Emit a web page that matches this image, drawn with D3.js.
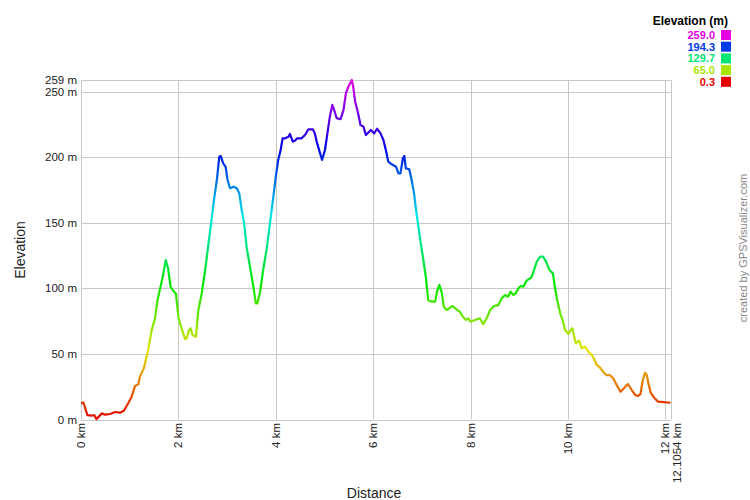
<!DOCTYPE html>
<html><head><meta charset="utf-8">
<script src="https://cdn.jsdelivr.net/npm/d3@7"></script>
<style>body{margin:0;background:#fff}svg{display:block;font-family:Arial,"Liberation Sans",sans-serif}</style>
</head><body><svg id="c" width="750" height="500"></svg>
<script>
const distances = [0,0.05,0.13,0.22,0.27,0.32,0.43,0.49,0.60,0.70,0.80,0.88,0.97,1.04,1.11,1.18,1.21,1.29,1.38,1.45,1.52,1.57,1.61,1.68,1.74,1.79,1.84,1.91,1.95,2.00,2.07,2.14,2.17,2.22,2.25,2.29,2.36,2.41,2.48,2.55,2.61,
2.68,2.73,2.79,2.84,2.87,2.92,2.97,3.01,3.06,3.13,3.20,3.25,3.30,3.35,3.40,3.47,3.54,3.59,3.62,3.68,3.74,3.81,3.88,3.95,4.00,4.05,4.10,4.14,4.19,4.26,4.29,4.35,4.39,4.44,4.53,4.60,4.67,4.76,4.80,4.84,4.91,4.95,5.01,5.06,5.11,5.16,5.20,5.25,5.33,5.39,5.44,5.49,5.56,5.59,5.63,5.69,5.74,5.80,5.85,5.92,
5.95,6.02,6.08,6.15,6.21,6.26,6.31,6.38,6.47,6.52,6.56,6.61,6.64,6.67,6.74,6.79,6.84,6.88,6.93,6.97,
7.03,7.08,7.13,7.20,7.27,7.32,7.36,7.41,7.45,7.51,7.63,7.73,7.78,7.84,7.91,7.95,8.00,8.09,8.19,8.26,8.33,8.40,8.48,8.57,8.64,8.71,8.77,8.82,8.88,8.93,8.98,9.03,9.08,9.15,9.25,9.29,9.36,9.43,9.49,9.55,9.62,9.69,9.73,9.78,9.84,9.89,9.94,10.01,
10.03,10.09,10.12,10.16,10.23,10.28,10.35,10.42,10.49,10.53,10.59,10.66,10.72,10.79,10.86,10.93,11.00,11.08,11.15,11.23,11.31,11.38,11.44,11.49,11.53,11.58,11.62,11.65,11.70,11.77,11.85,11.96,12.1054];
const elevations = [12.4,13,3.4,2.9,3.4,0.3,4.7,3.7,4.2,5.7,5.2,6.7,12.4,17.4,25.6,27,32.7,39,53,68,77,91,97.5,109,121.7,115,101,97.5,96,78,68.8,61.4,62,68.3,69.6,64.5,63.2,83.5,96.3,114,131.8,
152,167.4,182.7,200.5,201,195.4,192.8,182.7,176.4,177.6,176.4,172.5,159.8,149.7,131.8,116.6,101.3,88.6,88.6,97.5,114,129.3,149.7,170,185.2,198,205.6,214.5,214.5,215.7,217.8,212,212.7,214.5,214.5,217,221.4,221.4,218.3,212,203,198,205.6,218.3,231,240,236,229.8,229.2,236,248.8,253.9,259,253.9,242.4,233.6,224.7,223.4,217,219.6,
220.9,218.3,221.8,218.3,213.2,205.6,196.7,194.7,192.8,187.8,187.8,199.3,201,191.6,190.9,182.7,172.5,159.8,147,136,
121.7,109,91,89.9,89.9,98.8,102.6,96.3,86,83.5,86.6,83.5,82.2,78.4,75.9,77.2,74.6,75.9,77.2,72.8,77.2,83.5,86.6,87.3,92.4,95,93.7,97.5,95,96.3,100,101.8,101.3,105.9,108.5,112.7,120.4,124.2,124.2,120.4,114,111.5,101.3,91,81,75.9,68.3,65.2,
67,69.6,64.5,58.1,60.1,54.3,55.5,51.7,49.2,46.7,41.6,39.5,36.5,33.9,33.9,31.4,26.3,21.2,23.8,27.1,22.5,18.7,17.9,19.5,28.8,35.7,33.9,27.6,20.4,16.6,13.6,13.3,12.8];
const yTicks = [0,50,100,150,200,250,259];
const xTicks = [0,2,4,6,8,10,12,12.1054];
const xTickLabels = ["0 km","2 km","4 km","6 km","8 km","10 km","12 km","12.1054 km"];
const legendValues = ["259.0","194.3","129.7","65.0","0.3"];
const legendNums = [259.0,194.3,129.7,65.0,0.3];

const svg = d3.select("#c");
const x = d3.scaleLinear().domain([0,12.1054]).range([81,670.5]);
const y = d3.scaleLinear().domain([0,259]).range([419.5,80]);
const eMin = 0.3, eMax = 259.0;
const col = e => d3.hsl(300*(e-eMin)/(eMax-eMin), 1, 0.45).formatHex();

// gridlines
const g = svg.append("g");
g.selectAll("line.h").data(yTicks).join("line")
  .attr("x1",81).attr("x2",x(12.1054)).attr("y1",d=>Math.round(y(d))+0.5).attr("y2",d=>Math.round(y(d))+0.5)
  .attr("stroke","#c8c8c8").attr("stroke-width",1);
g.selectAll("line.v").data(xTicks).join("line")
  .attr("y1",y(259)).attr("y2",y(0)).attr("x1",d=>Math.round(x(d))+0.5).attr("x2",d=>Math.round(x(d))+0.5)
  .attr("stroke","#c8c8c8").attr("stroke-width",1);

// gradient
const defs = svg.append("defs");
const grad = defs.append("linearGradient").attr("id","eg").attr("gradientUnits","userSpaceOnUse")
  .attr("x1",0).attr("x2",0).attr("y1",y(eMin)).attr("y2",y(eMax));
d3.range(0,21).forEach(i=>{
  const e = eMin + (eMax-eMin)*i/20;
  grad.append("stop").attr("offset",(i/20)).attr("stop-color",col(e));
});
const pts = distances.map((d,i)=>[d,elevations[i]]);
svg.append("path").datum(pts)
  .attr("d", d3.line().x(d=>x(d[0])).y(d=>y(d[1])))
  .attr("fill","none").attr("stroke","url(#eg)").attr("stroke-width",2.2).attr("stroke-linejoin","round");

// y tick labels
svg.selectAll("text.yt").data(yTicks).join("text")
  .attr("x",77).attr("y",d=>y(d)).attr("dy","0.35em").attr("text-anchor","end")
  .attr("font-size",11.5).attr("fill","#222").text(d=>d+" m");
// x tick labels
svg.selectAll("text.xt").data(xTicks).join("text")
  .attr("transform",(d,i)=>`translate(${x(d)+(i===xTicks.length-1?6:0)},423) rotate(-90)`)
  .attr("dy","0.35em").attr("text-anchor","end")
  .attr("font-size",11.5).attr("fill","#222").text((d,i)=>xTickLabels[i]);

// axis titles
svg.append("text").attr("transform","translate(25,250) rotate(-90)").attr("text-anchor","middle")
  .attr("font-size",14).attr("fill","#222").text("Elevation");
svg.append("text").attr("x",374).attr("y",498).attr("text-anchor","middle")
  .attr("font-size",14).attr("fill","#222").text("Distance");

// credit
svg.append("text").attr("transform","translate(747,248) rotate(-90)").attr("text-anchor","middle")
  .attr("font-size",11).attr("fill","#888").text("created by GPSVisualizer.com");

// legend
svg.append("text").attr("x",728).attr("y",25).attr("text-anchor","end")
  .attr("font-size",12).attr("font-weight","bold").attr("fill","#000").text("Elevation (m)");
legendValues.forEach((v,i)=>{
  const cy = 35 + i*11.7;
  svg.append("text").attr("x",715).attr("y",cy).attr("dy","0.35em").attr("text-anchor","end")
    .attr("font-size",11).attr("font-weight","bold").attr("fill",col(legendNums[i])).text(v);
  svg.append("rect").attr("x",721).attr("y",cy-5).attr("width",10).attr("height",10).attr("fill",col(legendNums[i]));
});
</script></body></html>
